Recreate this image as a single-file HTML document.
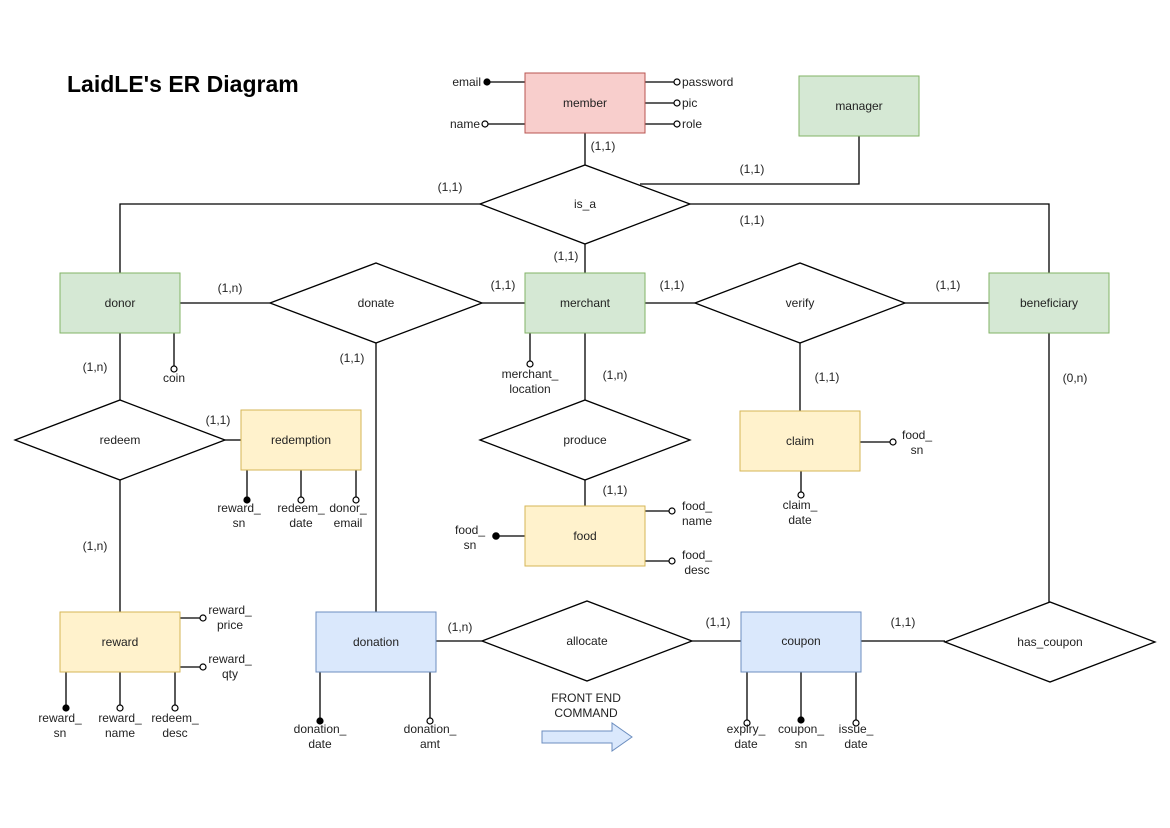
<!DOCTYPE html>
<html><head><meta charset="utf-8"><style>
html,body{margin:0;padding:0;background:#fff;}
svg{display:block;}
text{font-family:"Liberation Sans",Arial,sans-serif;font-size:12px;fill:#222;}
.c{text-anchor:middle;}
.e{text-anchor:end;}
</style></head><body>
<svg width="1170" height="828" viewBox="0 0 1170 828" xmlns="http://www.w3.org/2000/svg">
<rect width="1170" height="828" fill="#fff"/>
<text x="67" y="92" style="font-size:23px;font-weight:bold;fill:#000">LaidLE's ER Diagram</text>
<g stroke="#000" stroke-width="1.3" fill="none">
<line x1="487" y1="82" x2="525" y2="82"/><line x1="485" y1="124" x2="525" y2="124"/>
<line x1="645" y1="82" x2="677" y2="82"/><line x1="645" y1="103" x2="677" y2="103"/><line x1="645" y1="124" x2="677" y2="124"/>
<line x1="585" y1="133" x2="585" y2="165"/>
<polyline points="859,136 859,184 640,184"/>
<polyline points="120,273 120,204 480,204"/>
<polyline points="690,204 1049,204 1049,273"/>
<line x1="585" y1="244" x2="585" y2="273"/>
<line x1="180" y1="303" x2="270" y2="303"/><line x1="482" y1="303" x2="525" y2="303"/>
<line x1="376" y1="343" x2="376" y2="612"/>
<line x1="645" y1="303" x2="695" y2="303"/><line x1="905" y1="303" x2="989" y2="303"/>
<line x1="800" y1="343" x2="800" y2="411"/>
<line x1="174" y1="333" x2="174" y2="366"/>
<line x1="530" y1="333" x2="530" y2="361"/>
<line x1="585" y1="333" x2="585" y2="400"/><line x1="585" y1="480" x2="585" y2="506"/>
<line x1="496" y1="536" x2="525" y2="536"/>
<line x1="645" y1="511" x2="669" y2="511"/><line x1="645" y1="561" x2="669" y2="561"/>
<line x1="860" y1="442" x2="890" y2="442"/>
<line x1="801" y1="471" x2="801" y2="492"/>
<line x1="225" y1="440" x2="241" y2="440"/>
<line x1="247" y1="470" x2="247" y2="500"/><line x1="301" y1="470" x2="301" y2="497"/><line x1="356" y1="470" x2="356" y2="497"/>
<line x1="120" y1="333" x2="120" y2="400"/><line x1="120" y1="480" x2="120" y2="612"/>
<line x1="180" y1="618" x2="200" y2="618"/><line x1="180" y1="667" x2="200" y2="667"/>
<line x1="66" y1="672" x2="66" y2="708"/><line x1="120" y1="672" x2="120" y2="705"/><line x1="175" y1="672" x2="175" y2="705"/>
<line x1="320" y1="672" x2="320" y2="721"/><line x1="430" y1="672" x2="430" y2="718"/>
<line x1="436" y1="641" x2="482" y2="641"/><line x1="692" y1="641" x2="741" y2="641"/>
<line x1="747" y1="672" x2="747" y2="720"/><line x1="801" y1="672" x2="801" y2="720"/><line x1="856" y1="672" x2="856" y2="720"/>
<line x1="861" y1="641" x2="945" y2="641"/>
<line x1="1049" y1="333" x2="1049" y2="602"/>
</g>
<g stroke="#000" stroke-width="1.3" fill="#fff">
<polygon points="480,204 585,165 690,204 585,244"/>
<polygon points="270,303 376,263 482,303 376,343"/>
<polygon points="695,303 800,263 905,303 800,343"/>
<polygon points="480,440 585,400 690,440 585,480"/>
<polygon points="15,440 120,400 225,440 120,480"/>
<polygon points="482,641 587,601 692,641 587,681"/>
<polygon points="945,642 1050,602 1155,642 1050,682"/>
</g>
<rect x="525" y="73" width="120" height="60" fill="#f8cecc" stroke="#b85450"/>
<g fill="#d5e8d4" stroke="#82b366">
<rect x="799" y="76" width="120" height="60"/>
<rect x="60" y="273" width="120" height="60"/>
<rect x="525" y="273" width="120" height="60"/>
<rect x="989" y="273" width="120" height="60"/>
</g>
<g fill="#fff2cc" stroke="#d6b656">
<rect x="241" y="410" width="120" height="60"/>
<rect x="740" y="411" width="120" height="60"/>
<rect x="525" y="506" width="120" height="60"/>
<rect x="60" y="612" width="120" height="60"/>
</g>
<g fill="#dae8fc" stroke="#6c8ebf">
<rect x="316" y="612" width="120" height="60"/>
<rect x="741" y="612" width="120" height="60"/>
<polygon points="542,731 612,731 612,723 632,737 612,751 612,743 542,743"/>
</g>
<g stroke="#000" stroke-width="1.2" fill="#000">
<circle cx="487" cy="82" r="3"/><circle cx="496" cy="536" r="3.2"/><circle cx="247" cy="500" r="3"/>
<circle cx="66" cy="708" r="3"/><circle cx="320" cy="721" r="3"/><circle cx="801" cy="720" r="3"/>
</g>
<g stroke="#000" stroke-width="1.2" fill="#fff">
<circle cx="485" cy="124" r="3"/><circle cx="677" cy="82" r="3"/><circle cx="677" cy="103" r="3"/><circle cx="677" cy="124" r="3"/>
<circle cx="174" cy="369" r="3"/><circle cx="530" cy="364" r="3"/>
<circle cx="672" cy="511" r="3"/><circle cx="672" cy="561" r="3"/>
<circle cx="893" cy="442" r="3"/><circle cx="801" cy="495" r="3"/>
<circle cx="301" cy="500" r="3"/><circle cx="356" cy="500" r="3"/>
<circle cx="203" cy="618" r="3"/><circle cx="203" cy="667" r="3"/>
<circle cx="120" cy="708" r="3"/><circle cx="175" cy="708" r="3"/>
<circle cx="430" cy="721" r="3"/><circle cx="747" cy="723" r="3"/><circle cx="856" cy="723" r="3"/>
</g>
<g class="c">
<text x="585" y="107" class="c">member</text>
<text x="859" y="110" class="c">manager</text>
<text x="585" y="208" class="c">is_a</text>
<text x="120" y="307" class="c">donor</text>
<text x="585" y="307" class="c">merchant</text>
<text x="1049" y="307" class="c">beneficiary</text>
<text x="376" y="307" class="c">donate</text>
<text x="800" y="307" class="c">verify</text>
<text x="585" y="444" class="c">produce</text>
<text x="120" y="444" class="c">redeem</text>
<text x="301" y="444" class="c">redemption</text>
<text x="800" y="445" class="c">claim</text>
<text x="585" y="540" class="c">food</text>
<text x="120" y="646" class="c">reward</text>
<text x="376" y="646" class="c">donation</text>
<text x="587" y="645" class="c">allocate</text>
<text x="801" y="645" class="c">coupon</text>
<text x="1050" y="646" class="c">has_coupon</text>
<text x="603" y="150" class="c">(1,1)</text>
<text x="752" y="173" class="c">(1,1)</text>
<text x="450" y="191" class="c">(1,1)</text>
<text x="752" y="224" class="c">(1,1)</text>
<text x="566" y="260" class="c">(1,1)</text>
<text x="230" y="292" class="c">(1,n)</text>
<text x="503" y="289" class="c">(1,1)</text>
<text x="672" y="289" class="c">(1,1)</text>
<text x="948" y="289" class="c">(1,1)</text>
<text x="352" y="362" class="c">(1,1)</text>
<text x="95" y="371" class="c">(1,n)</text>
<text x="615" y="379" class="c">(1,n)</text>
<text x="827" y="381" class="c">(1,1)</text>
<text x="1075" y="382" class="c">(0,n)</text>
<text x="218" y="424" class="c">(1,1)</text>
<text x="615" y="494" class="c">(1,1)</text>
<text x="95" y="550" class="c">(1,n)</text>
<text x="460" y="631" class="c">(1,n)</text>
<text x="718" y="626" class="c">(1,1)</text>
<text x="903" y="626" class="c">(1,1)</text>
<text x="174" y="382" class="c">coin</text>
<text x="530" y="378" class="c">merchant_</text><text x="530" y="393" class="c">location</text>
<text x="470" y="534" class="c">food_</text><text x="470" y="549" class="c">sn</text>
<text x="697" y="510" class="c">food_</text><text x="697" y="525" class="c">name</text>
<text x="697" y="559" class="c">food_</text><text x="697" y="574" class="c">desc</text>
<text x="917" y="439" class="c">food_</text><text x="917" y="454" class="c">sn</text>
<text x="800" y="509" class="c">claim_</text><text x="800" y="524" class="c">date</text>
<text x="239" y="512" class="c">reward_</text><text x="239" y="527" class="c">sn</text>
<text x="301" y="512" class="c">redeem_</text><text x="301" y="527" class="c">date</text>
<text x="348" y="512" class="c">donor_</text><text x="348" y="527" class="c">email</text>
<text x="230" y="614" class="c">reward_</text><text x="230" y="629" class="c">price</text>
<text x="230" y="663" class="c">reward_</text><text x="230" y="678" class="c">qty</text>
<text x="60" y="722" class="c">reward_</text><text x="60" y="737" class="c">sn</text>
<text x="120" y="722" class="c">reward_</text><text x="120" y="737" class="c">name</text>
<text x="175" y="722" class="c">redeem_</text><text x="175" y="737" class="c">desc</text>
<text x="320" y="733" class="c">donation_</text><text x="320" y="748" class="c">date</text>
<text x="430" y="733" class="c">donation_</text><text x="430" y="748" class="c">amt</text>
<text x="746" y="733" class="c">expiry_</text><text x="746" y="748" class="c">date</text>
<text x="801" y="733" class="c">coupon_</text><text x="801" y="748" class="c">sn</text>
<text x="856" y="733" class="c">issue_</text><text x="856" y="748" class="c">date</text>
<text x="586" y="702" class="c">FRONT END</text><text x="586" y="717" class="c">COMMAND</text>
</g>
<text x="481" y="86" class="e">email</text>
<text x="480" y="128" class="e">name</text>
<text x="682" y="86">password</text>
<text x="682" y="107">pic</text>
<text x="682" y="128">role</text>
</svg>
</body></html>
